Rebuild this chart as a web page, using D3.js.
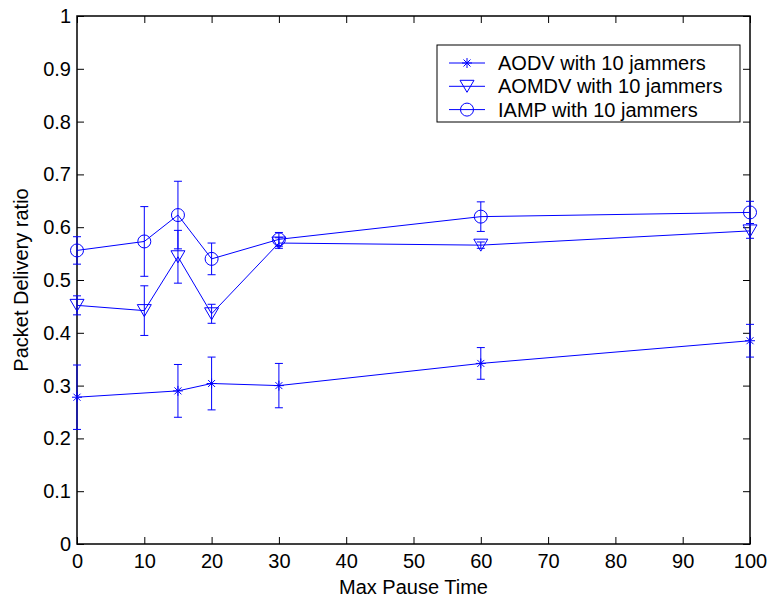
<!DOCTYPE html>
<html>
<head>
<meta charset="utf-8">
<script src="https://cdn.jsdelivr.net/npm/d3@7"></script>
<style>
  body { margin: 0; background: #fff; }
  svg { font-family: "Liberation Sans", Arial, sans-serif; }
</style>
</head>
<body>
<svg id="chart" width="769" height="598"></svg>
<script>
// data
const xTicks = [0, 10, 20, 30, 40, 50, 60, 70, 80, 90, 100];
const yTicks = [0, 0.1, 0.2, 0.3, 0.4, 0.5, 0.6, 0.7, 0.8, 0.9, 1];

const aodvX = [0, 15, 20, 30, 60, 100];
const aodvY = [0.278, 0.290, 0.304, 0.300, 0.342, 0.385];
const aodvErr = [0.061, 0.050, 0.050, 0.042, 0.030, 0.031];

const aomdvX = [0, 10, 15, 20, 30, 60, 100];
const aomdvY = [0.452, 0.442, 0.544, 0.436, 0.570, 0.566, 0.593];
const aomdvErr = [0.018, 0.047, 0.050, 0.018, 0.010, 0.006, 0.014];

const iampX = [0, 10, 15, 20, 30, 60, 100];
const iampY = [0.556, 0.573, 0.623, 0.540, 0.577, 0.620, 0.628];
const iampErr = [0.026, 0.066, 0.064, 0.030, 0.013, 0.028, 0.021];

const seriesNames = ['AODV with 10 jammers', 'AOMDV with 10 jammers', 'IAMP with 10 jammers'];

const blue = '#0000ff';
const fontSize = '20px';
const svg = d3.select('#chart');
const margin = { top: 16, right: 19, bottom: 54, left: 77 };
const width = 769 - margin.left - margin.right;
const height = 598 - margin.top - margin.bottom;

const x = d3.scaleLinear().domain([0, 100]).range([0, width]);
const y = d3.scaleLinear().domain([0, 1]).range([height, 0]);

const g = svg.append('g').attr('transform', `translate(${margin.left},${margin.top})`);

// axes, matlab style with inward ticks on all four sides
const tickLen = 7;
function styleAxis(sel) {
    sel.select('.domain').remove();
    sel.selectAll('line').attr('stroke', '#000');
    sel.selectAll('text').attr('fill', '#000').style('font-size', fontSize);
}
g.append('g').attr('transform', `translate(0,${height})`)
    .call(d3.axisBottom(x).tickValues(xTicks).tickSizeInner(-tickLen).tickSizeOuter(0).tickPadding(10).tickFormat(d3.format('d')))
    .call(styleAxis);
g.append('g')
    .call(d3.axisLeft(y).tickValues(yTicks).tickSizeInner(-tickLen).tickSizeOuter(0).tickPadding(6).tickFormat(d => d === 0 || d === 1 ? d : d3.format('.1f')(d)))
    .call(styleAxis);
g.append('g')
    .call(d3.axisTop(x).tickValues(xTicks).tickSizeInner(-tickLen).tickSizeOuter(0).tickFormat(''))
    .call(styleAxis);
g.append('g').attr('transform', `translate(${width},0)`)
    .call(d3.axisRight(y).tickValues(yTicks).tickSizeInner(-tickLen).tickSizeOuter(0).tickFormat(''))
    .call(styleAxis);
g.append('rect')
    .attr('width', width).attr('height', height)
    .attr('fill', 'none').attr('stroke', '#000').attr('stroke-width', 1.5);

// axis titles
svg.append('text')
    .attr('x', margin.left + width / 2).attr('y', 594)
    .attr('text-anchor', 'middle').style('font-size', fontSize)
    .text('Max Pause Time');
svg.append('text')
    .attr('transform', `translate(28,${margin.top + height / 2}) rotate(-90)`)
    .attr('text-anchor', 'middle').style('font-size', fontSize)
    .text('Packet Delivery ratio');

// markers
function drawMarker(sel, type) {
    if (type === 'star') {
        const r = 5;
        sel.append('path')
            .attr('d', `M${-r},0H${r}M0,${-r}V${r}M${-r * 0.7},${-r * 0.7}L${r * 0.7},${r * 0.7}M${-r * 0.7},${r * 0.7}L${r * 0.7},${-r * 0.7}`)
            .attr('stroke', blue).attr('fill', 'none');
    } else if (type === 'tri') {
        sel.append('path')
            .attr('d', 'M-7,-6L7,-6L0,6Z')
            .attr('stroke', blue).attr('fill', 'none');
    } else {
        sel.append('circle').attr('r', 6.5)
            .attr('stroke', blue).attr('fill', 'none');
    }
}

function drawSeries(xs, ys, errs, type) {
    const pts = xs.map((d, i) => ({ x: d, y: ys[i], e: errs[i] }));
    const s = g.append('g');
    // error bars
    pts.forEach(p => {
        const cx = x(p.x);
        const cap = 4;
        s.append('path')
            .attr('d', `M${cx},${y(p.y + p.e)}V${y(p.y - p.e)}M${cx - cap},${y(p.y + p.e)}H${cx + cap}M${cx - cap},${y(p.y - p.e)}H${cx + cap}`)
            .attr('stroke', blue).attr('fill', 'none');
    });
    s.append('path')
        .datum(pts)
        .attr('d', d3.line().x(d => x(d.x)).y(d => y(d.y)))
        .attr('stroke', blue).attr('fill', 'none');
    pts.forEach(p => {
        drawMarker(s.append('g').attr('transform', `translate(${x(p.x)},${y(p.y)})`), type);
    });
}

drawSeries(aodvX, aodvY, aodvErr, 'star');
drawSeries(aomdvX, aomdvY, aomdvErr, 'tri');
drawSeries(iampX, iampY, iampErr, 'circle');

// legend
const legend = svg.append('g').attr('transform', 'translate(437,45)');
legend.append('rect')
    .attr('width', 303).attr('height', 77)
    .attr('fill', '#fff').attr('stroke', '#000');
['star', 'tri', 'circle'].forEach((type, i) => {
    const ly = 18 + i * 23.3;
    legend.append('line')
        .attr('x1', 12).attr('x2', 48).attr('y1', ly).attr('y2', ly)
        .attr('stroke', blue);
    drawMarker(legend.append('g').attr('transform', `translate(30,${ly})`), type);
    legend.append('text')
        .attr('x', 61).attr('y', ly + 7)
        .style('font-size', fontSize)
        .text(seriesNames[i]);
});
</script>
</body>
</html>
